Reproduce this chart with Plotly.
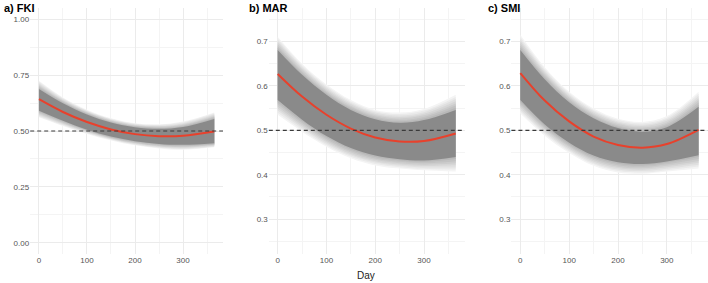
import plotly.graph_objects as go

days = [0, 50, 100, 150, 200, 250, 300, 365]

panels = ["a) FKI", "b) MAR", "c) SMI"]

a_mean = [0.642, 0.585, 0.540, 0.507, 0.486, 0.477, 0.479, 0.498]
a_core_hi = [0.688, 0.624, 0.574, 0.538, 0.517, 0.510, 0.518, 0.554]
a_core_lo = [0.591, 0.546, 0.506, 0.475, 0.454, 0.442, 0.438, 0.445]
a_outer_hi = [0.725, 0.650, 0.595, 0.557, 0.535, 0.530, 0.542, 0.583]
a_outer_lo = [0.561, 0.522, 0.487, 0.458, 0.436, 0.422, 0.416, 0.427]

b_mean = [0.627, 0.576, 0.535, 0.504, 0.484, 0.475, 0.476, 0.493]
b_core_hi = [0.681, 0.625, 0.580, 0.546, 0.525, 0.517, 0.523, 0.546]
b_core_lo = [0.568, 0.524, 0.487, 0.460, 0.443, 0.435, 0.432, 0.440]
b_outer_hi = [0.711, 0.650, 0.603, 0.568, 0.546, 0.540, 0.548, 0.580]
b_outer_lo = [0.535, 0.497, 0.463, 0.437, 0.421, 0.414, 0.410, 0.407]

c_mean = [0.629, 0.567, 0.520, 0.486, 0.467, 0.461, 0.469, 0.501]
c_core_hi = [0.681, 0.615, 0.563, 0.527, 0.505, 0.497, 0.507, 0.553]
c_core_lo = [0.568, 0.513, 0.472, 0.443, 0.428, 0.424, 0.430, 0.444]
c_outer_hi = [0.715, 0.642, 0.587, 0.549, 0.526, 0.519, 0.532, 0.587]
c_outer_lo = [0.538, 0.488, 0.449, 0.420, 0.405, 0.402, 0.407, 0.414]

x_ticks = [0, 100, 200, 300]
a_yticks = [0.00, 0.25, 0.50, 0.75, 1.00]
a_yticklabels = ["0.00", "0.25", "0.50", "0.75", "1.00"]
bc_yticks = [0.3, 0.4, 0.5, 0.6, 0.7]
bc_yticklabels = ["0.3", "0.4", "0.5", "0.6", "0.7"]

data = [
    (a_mean, a_core_lo, a_core_hi, a_outer_lo, a_outer_hi),
    (b_mean, b_core_lo, b_core_hi, b_outer_lo, b_outer_hi),
    (c_mean, c_core_lo, c_core_hi, c_outer_lo, c_outer_hi),
]

W, H = 708, 283
xdoms = [(30.2, 223.0), (268.8, 464.6), (511.4, 707.5)]
ydom = (1 - 254 / H, 1 - 8 / H)
yranges = [(-0.05, 1.05), (0.2214, 0.7755), (0.2214, 0.7755)]

fig = go.Figure()
FONT = "Liberation Sans, Arial, sans-serif"

n_layers = 7
for i, (mean, clo, chi, olo, ohi) in enumerate(data):
    xa = "x" if i == 0 else f"x{i+1}"
    ya = "y" if i == 0 else f"y{i+1}"
    # fuzzy envelope: layers from outer edge toward core
    for k in range(n_layers + 1):
        t = k / n_layers
        lo = [o + (c - o) * t for o, c in zip(olo, clo)]
        hi = [o + (c - o) * t for o, c in zip(ohi, chi)]
        if k == n_layers:
            col = "rgb(138,138,138)"
        else:
            g = int(244 - (244 - 175) * t)
            col = f"rgb({g},{g},{g})"
        fig.add_trace(go.Scatter(x=days, y=lo, mode="lines", line=dict(width=0, shape="spline"),
                                 xaxis=xa, yaxis=ya, showlegend=False, hoverinfo="skip"))
        fig.add_trace(go.Scatter(x=days, y=hi, mode="lines", line=dict(width=0, shape="spline"),
                                 fill="tonexty", fillcolor=col,
                                 xaxis=xa, yaxis=ya, showlegend=False, hoverinfo="skip"))
    fig.add_shape(type="line", xref=f"{xa} domain", yref=ya, x0=0, x1=1, y0=0.5, y1=0.5,
                  line=dict(color="#3a3a3a", width=1.2, dash="4px,3px"))
    fig.add_trace(go.Scatter(x=days, y=mean, mode="lines",
                             line=dict(color="#e8412c", width=2, shape="spline"),
                             xaxis=xa, yaxis=ya, showlegend=False))

    xd = xdoms[i]
    ax = dict(domain=[xd[0] / W, xd[1] / W], range=[-18.25, 383.25], tickvals=x_ticks,
              ticktext=[str(v) for v in x_ticks], showgrid=True, gridcolor="#ebebeb", gridwidth=1,
              zeroline=False, showline=False, ticks="", anchor=ya,
              tickfont=dict(family=FONT, size=8, color="#555555"),
              minor=dict(tickvals=[50, 150, 250, 350], showgrid=True, gridcolor="#f4f4f4", gridwidth=0.6))
    if i == 0:
        yt, yl = a_yticks, a_yticklabels
        ymin = [0.125, 0.375, 0.625, 0.875]
    else:
        yt, yl = bc_yticks, bc_yticklabels
        ymin = [0.25, 0.35, 0.45, 0.55, 0.65, 0.75]
    ay = dict(domain=list(ydom), range=list(yranges[i]), tickvals=yt, ticktext=yl,
              showgrid=True, gridcolor="#ebebeb", gridwidth=1, zeroline=False, showline=False,
              ticks="", anchor=xa, tickfont=dict(family=FONT, size=8, color="#555555"),
              minor=dict(tickvals=ymin, showgrid=True, gridcolor="#f4f4f4", gridwidth=0.6))
    fig.layout[f"xaxis{'' if i == 0 else i+1}"] = ax
    fig.layout[f"yaxis{'' if i == 0 else i+1}"] = ay

title_x = [2, 247, 486]
for i, t in enumerate(panels):
    fig.add_annotation(text=f"<b>{t}</b>", xref="paper", yref="paper", x=title_x[i] / W, y=1.0,
                       xanchor="left", yanchor="top", showarrow=False,
                       font=dict(family=FONT, size=11, color="#000000"))

fig.add_annotation(text="Day", xref="paper", yref="paper", x=366 / W, y=0,
                   xanchor="center", yanchor="bottom", showarrow=False,
                   font=dict(family=FONT, size=10, color="#222222"))

fig.update_layout(width=W, height=H, margin=dict(l=0, r=0, t=0, b=0),
                  paper_bgcolor="white", plot_bgcolor="white", showlegend=False)

fig.write_html("out.html")
